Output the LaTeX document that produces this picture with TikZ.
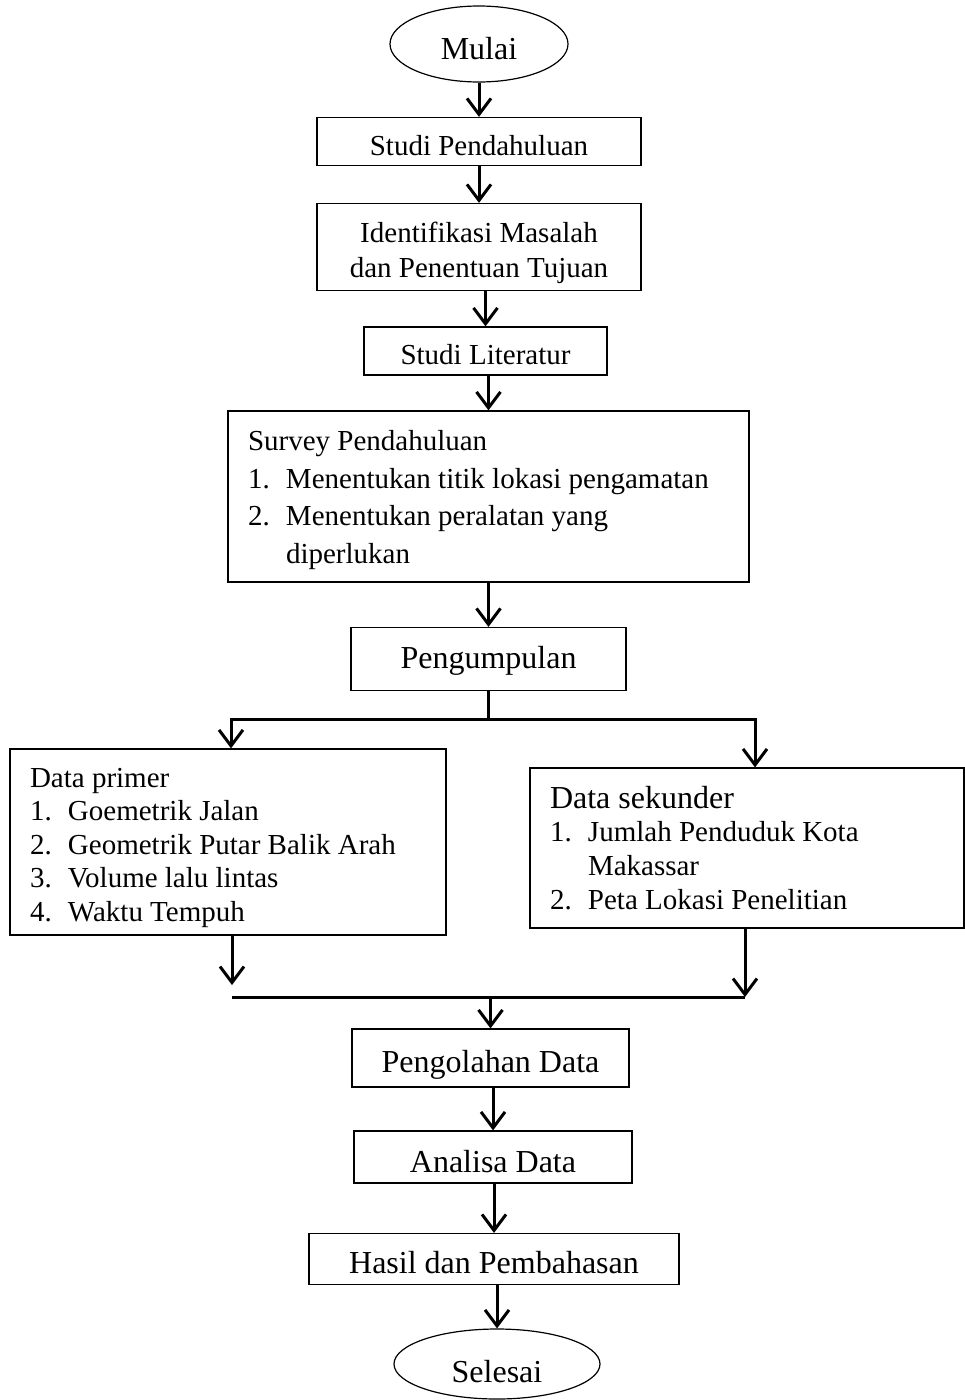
\documentclass[tikz,border=0pt]{standalone}
\usepackage{fontspec}
\setmainfont{Liberation Serif}
\usetikzlibrary{shapes.geometric,arrows.meta,positioning,calc}
\newcommand{\butir}[2]{\makebox[38pt][l]{#1}#2}
\newcommand{\lanjut}{\hspace*{38pt}}

\begin{document}
\begin{tikzpicture}[x=1pt,y=-1pt,
  kotak/.style={draw,line width=1.2pt,inner sep=0pt,text depth=0pt,font=\fontsize{29}{35}\selectfont},
  kotakbesar/.style={kotak,font=\fontsize{32}{38}\selectfont},
  daftar/.style={draw,line width=1.2pt,inner xsep=20pt,inner ysep=0pt,text height=0pt},
  terminal/.style={draw,ellipse,line width=1.2pt,inner sep=0pt,text depth=0pt,font=\fontsize{32}{38}\selectfont},
  panah/.style={line width=3pt,-{Straight Barb[length=16pt,width=24pt]}},
  garis/.style={line width=3pt}]
\useasboundingbox (0,0) rectangle (965,1400);

% alur atas
\node[terminal,minimum width=178pt,minimum height=76pt,text height=31pt] (mulai) at (479,44) {Mulai};
\node[kotak,minimum width=324pt,minimum height=48pt,text height=27pt] (studi) at (479,141.5) {Studi Pendahuluan};
\node[kotak,minimum width=324pt,minimum height=87pt,text height=0pt,text depth=10pt] (identifikasi) at (479,247)
  {\parbox[t]{324pt}{\centering Identifikasi Masalah\\dan Penentuan Tujuan}};
\node[kotak,minimum width=243pt,minimum height=48pt,text height=27pt] (literatur) at (485.5,351) {Studi Literatur};
\node[daftar,minimum height=171pt,text depth=92pt,font=\fontsize{29}{37.5}\selectfont] (survey) at (488.5,496.5)
  {\parbox[t]{481pt}{\raggedright Survey Pendahuluan\\
   \butir{1.}{Menentukan titik lokasi pengamatan}\\
   \butir{2.}{Menentukan peralatan yang}\\
   \lanjut diperlukan}};
\node[kotakbesar,minimum width=275pt,minimum height=63pt,text height=18pt] (kumpul) at (488.5,659) {Pengumpulan};

% data
\node[daftar,minimum height=186pt,text depth=110pt,font=\fontsize{29}{33.5}\selectfont] (primer) at (228,842)
  {\parbox[t]{396pt}{\raggedright Data primer\\
   \butir{1.}{Goemetrik Jalan}\\
   \butir{2.}{Geometrik Putar Balik Arah}\\
   \butir{3.}{Volume lalu lintas}\\
   \butir{4.}{Waktu Tempuh}}};
\node[daftar,minimum height=160pt,text depth=80pt,font=\fontsize{29}{33.7}\selectfont] (sekunder) at (747,848)
  {\parbox[t]{394pt}{\raggedright {\fontsize{32}{33.7}\selectfont Data sekunder}\\
   \butir{1.}{Jumlah Penduduk Kota}\\
   \lanjut Makassar\\
   \butir{2.}{Peta Lokasi Penelitian}}};

% alur bawah
\node[kotakbesar,minimum width=277pt,minimum height=58pt,text height=28pt] (olah) at (490.5,1058) {Pengolahan Data};
\node[kotakbesar,minimum width=278pt,minimum height=52pt,text height=31pt] (analisa) at (493,1157) {Analisa Data};
\node[kotakbesar,minimum width=370pt,minimum height=51pt,text height=28pt] (hasil) at (494,1259) {Hasil dan Pembahasan};
\node[terminal,minimum width=206pt,minimum height=70pt,text height=36pt] (selesai) at (497,1364) {Selesai};

\coordinate (kiri) at (231,719);
\coordinate (kanan) at (755,719);
\coordinate (gabungKiri) at (232,997);
\coordinate (gabungKanan) at (745,997);
\coordinate (ujungKiri) at (232,985);

\draw[panah] (studi.north |- mulai.south) -- (studi.north);
\draw[panah] (identifikasi.north |- studi.south) -- (identifikasi.north);
\draw[panah] (literatur.north |- identifikasi.south) -- (literatur.north);
\draw[panah] (survey.north |- literatur.south) -- (survey.north);
\draw[panah] (kumpul.north |- survey.south) -- (kumpul.north);

% percabangan
\draw[garis] (kumpul.south) -- (kumpul.south |- kiri);
\draw[panah] (kumpul.south |- kiri) -- (kiri) -- (kiri |- primer.north);
\draw[panah] (kumpul.south |- kiri) -- (kanan) -- (kanan |- sekunder.north);

% penggabungan
\draw[panah] (ujungKiri |- primer.south) -- (ujungKiri);
\draw[panah] (gabungKanan |- sekunder.south) -- (gabungKanan);
\draw[garis] (gabungKiri) -- (gabungKanan);
\draw[panah] (olah.north |- gabungKiri) -- (olah.north);

\draw[panah] (analisa.north |- olah.south) -- (analisa.north);
\draw[panah] (hasil.north |- analisa.south) -- (hasil.north);
\draw[panah] (selesai.north |- hasil.south) -- (selesai.north);
\end{tikzpicture}
\end{document}
